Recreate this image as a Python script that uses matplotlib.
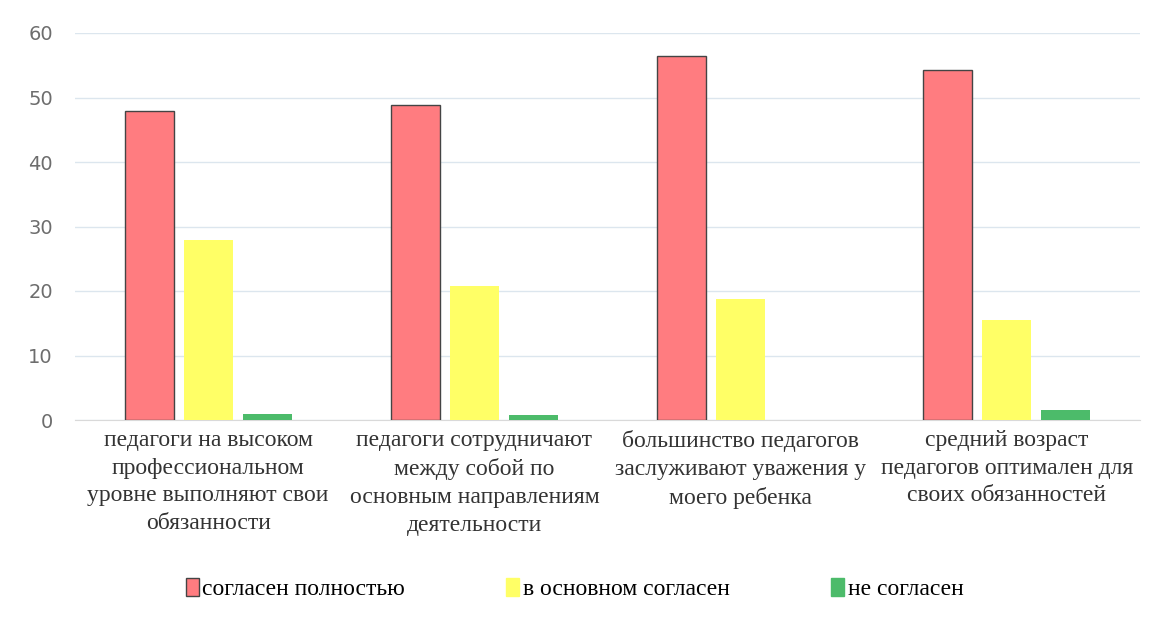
import matplotlib.pyplot as plt
import numpy as np
from matplotlib.patches import Patch

categories = [
    "педагоги на высоком\nпрофессиональном\nуровне выполняют свои\nобязанности",
    "педагоги сотрудничают\nмежду собой по\nосновным направлениям\nдеятельности",
    "большинство педагогов\nзаслуживают уважения у\nмоего ребенка",
    "средний возраст\nпедагогов оптимален для\nсвоих обязанностей",
]
series_names = ["согласен полностью", "в основном согласен", "не согласен"]
full_agree = [47.9, 48.8, 56.4, 54.2]
mostly_agree = [27.9, 20.8, 18.7, 15.5]
disagree = [1.0, 0.8, 0.0, 1.5]

colors = ["#ff7c80", "#ffff66", "#4cbb6a"]
edges = ["#444444", "none", "none"]

fig = plt.figure(figsize=(11.63, 6.17), dpi=100)
ax = fig.add_axes([75 / 1163, 1 - 420 / 617, 1065 / 1163, 387 / 617])

x = np.arange(len(categories))
width = 0.184
step = 0.222
for i, (vals, c, e) in enumerate(zip([full_agree, mostly_agree, disagree], colors, edges)):
    ax.bar(x + (i - 1) * step, vals, width, color=c, edgecolor=e,
           linewidth=1.0 if e != "none" else 0, zorder=3)

ax.set_xlim(-0.5, len(categories) - 0.5)
ax.set_ylim(0, 60)
ax.set_yticks(range(0, 61, 10))
ax.yaxis.grid(True, color="#dce6ee", linewidth=1.0, zorder=0)
ax.set_axisbelow(True)
for s in ["top", "right", "left"]:
    ax.spines[s].set_visible(False)
ax.spines["bottom"].set_color("#d9d9d9")

ax.set_xticks(x)
ax.set_xticklabels(categories, family="Liberation Serif", fontsize=17,
                   color="#333333", linespacing=1.43)
ax.tick_params(axis="x", length=0, pad=7)
ax.tick_params(axis="y", length=0, pad=16, labelsize=14, labelcolor="#6d6d6d")

handles = [Patch(facecolor=c, edgecolor=e if e != "none" else c) for c, e in zip(colors, edges)]
fig.legend(handles, series_names, loc="center", bbox_to_anchor=(0.494, 1 - 589 / 617),
           ncol=3, frameon=False, handlelength=0.55, handleheight=0.8,
           handletextpad=0.15, columnspacing=4.3,
           prop={"family": "Liberation Serif", "size": 17})

plt.savefig("out.png", dpi=100)
